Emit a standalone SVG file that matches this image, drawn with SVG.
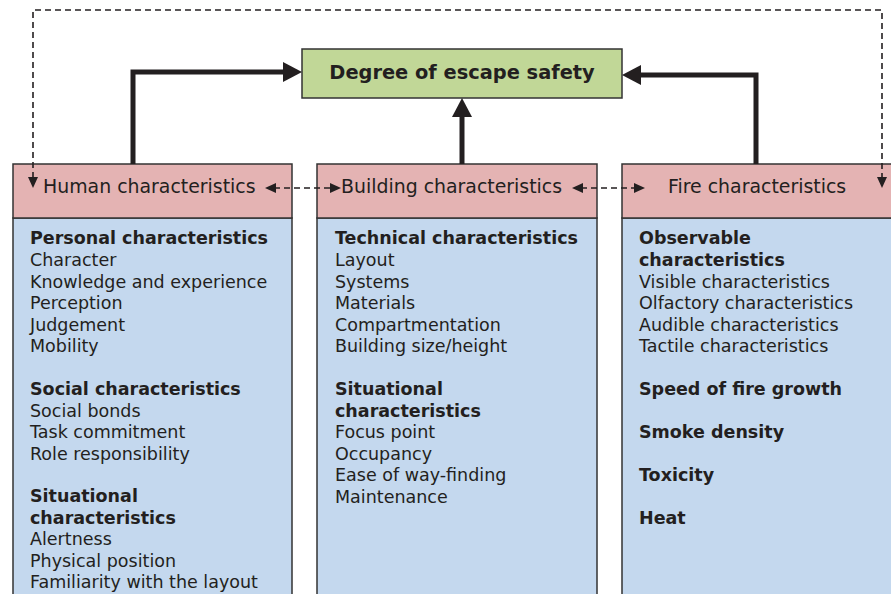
<svg xmlns="http://www.w3.org/2000/svg" width="891" height="594" viewBox="0 0 891 594">
<style>
.hdr{fill:#e4b3b3;stroke:#333;stroke-width:1.5}
.body{fill:#c4d8ee;stroke:#333;stroke-width:1.5}
.goal{fill:#c1d797;stroke:#333;stroke-width:1.5}
text{font-family:"DejaVu Sans",Verdana,sans-serif;fill:#231f20}
.ht{font-size:18.9px}
.t{font-size:17.5px}
.b{font-size:17.5px;font-weight:bold}
.thick{fill:none;stroke:#231f20;stroke-width:5}
.dash{fill:none;stroke:#231f20;stroke-width:1.6;stroke-dasharray:6,4}
.ah{fill:#231f20}
</style>
<rect width="891" height="594" fill="#fff"/>
<g id="goal">
<rect class="goal" x="302" y="49" width="320" height="49"/>
<text x="462" y="79" text-anchor="middle" style="font-size:19.4px;font-weight:bold">Degree of escape safety</text>
</g>
<g id="human">
<rect class="body" x="13" y="218" width="279" height="390"/>
<rect class="hdr" x="13" y="164" width="279" height="54"/>
<text class="ht" x="43" y="193">Human characteristics</text>
<text class="b" x="30" y="244">Personal characteristics</text>
<text class="t" x="30" y="266">Character</text>
<text class="t" x="30" y="287.5">Knowledge and experience</text>
<text class="t" x="30" y="309">Perception</text>
<text class="t" x="30" y="330.5">Judgement</text>
<text class="t" x="30" y="352">Mobility</text>
<text class="b" x="30" y="395">Social characteristics</text>
<text class="t" x="30" y="416.5">Social bonds</text>
<text class="t" x="30" y="438">Task commitment</text>
<text class="t" x="30" y="459.5">Role responsibility</text>
<text class="b" x="30" y="502">Situational</text>
<text class="b" x="30" y="523.5">characteristics</text>
<text class="t" x="30" y="545">Alertness</text>
<text class="t" x="30" y="566.5">Physical position</text>
<text class="t" x="30" y="588">Familiarity with the layout</text>
</g>
<g id="building">
<rect class="body" x="317" y="218" width="280" height="390"/>
<rect class="hdr" x="317" y="164" width="280" height="54"/>
<text class="ht" x="341" y="193">Building characteristics</text>
<text class="b" x="335" y="244">Technical characteristics</text>
<text class="t" x="335" y="266">Layout</text>
<text class="t" x="335" y="287.5">Systems</text>
<text class="t" x="335" y="309">Materials</text>
<text class="t" x="335" y="330.5">Compartmentation</text>
<text class="t" x="335" y="352">Building size/height</text>
<text class="b" x="335" y="395">Situational</text>
<text class="b" x="335" y="416.5">characteristics</text>
<text class="t" x="335" y="438">Focus point</text>
<text class="t" x="335" y="459.5">Occupancy</text>
<text class="t" x="335" y="481">Ease of way-finding</text>
<text class="t" x="335" y="502.5">Maintenance</text>
</g>
<g id="fire">
<rect class="body" x="622" y="218" width="280" height="390"/>
<rect class="hdr" x="622" y="164" width="280" height="54"/>
<text class="ht" x="668" y="193">Fire characteristics</text>
<text class="b" x="639" y="244">Observable</text>
<text class="b" x="639" y="266">characteristics</text>
<text class="t" x="639" y="287.5">Visible characteristics</text>
<text class="t" x="639" y="309">Olfactory characteristics</text>
<text class="t" x="639" y="330.5">Audible characteristics</text>
<text class="t" x="639" y="352">Tactile characteristics</text>
<text class="b" x="639" y="395">Speed of fire growth</text>
<text class="b" x="639" y="438">Smoke density</text>
<text class="b" x="639" y="481">Toxicity</text>
<text class="b" x="639" y="523.5">Heat</text>
</g>
<g id="connectors">
<path class="thick" d="M133,164 V72 H285"/>
<polygon class="ah" points="283,62 302,72 283,82"/>
<path class="thick" d="M462,164 V116"/>
<polygon class="ah" points="452,117 462,98 472,117"/>
<path class="thick" d="M756,164 V75 H640"/>
<polygon class="ah" points="641,65 622,75 641,85"/>
<path class="dash" d="M33,178 V10 H882 V178"/>
<polygon class="ah" points="28,177 33,188 38,177"/>
<polygon class="ah" points="877,177 882,188 887,177"/>
<path class="dash" d="M274,188 H332"/>
<polygon class="ah" points="276,183 265,188 276,193"/>
<polygon class="ah" points="330,183 341,188 330,193"/>
<path class="dash" d="M581,188 H636"/>
<polygon class="ah" points="583,183 572,188 583,193"/>
<polygon class="ah" points="634,183 645,188 634,193"/>
</g>
</svg>
